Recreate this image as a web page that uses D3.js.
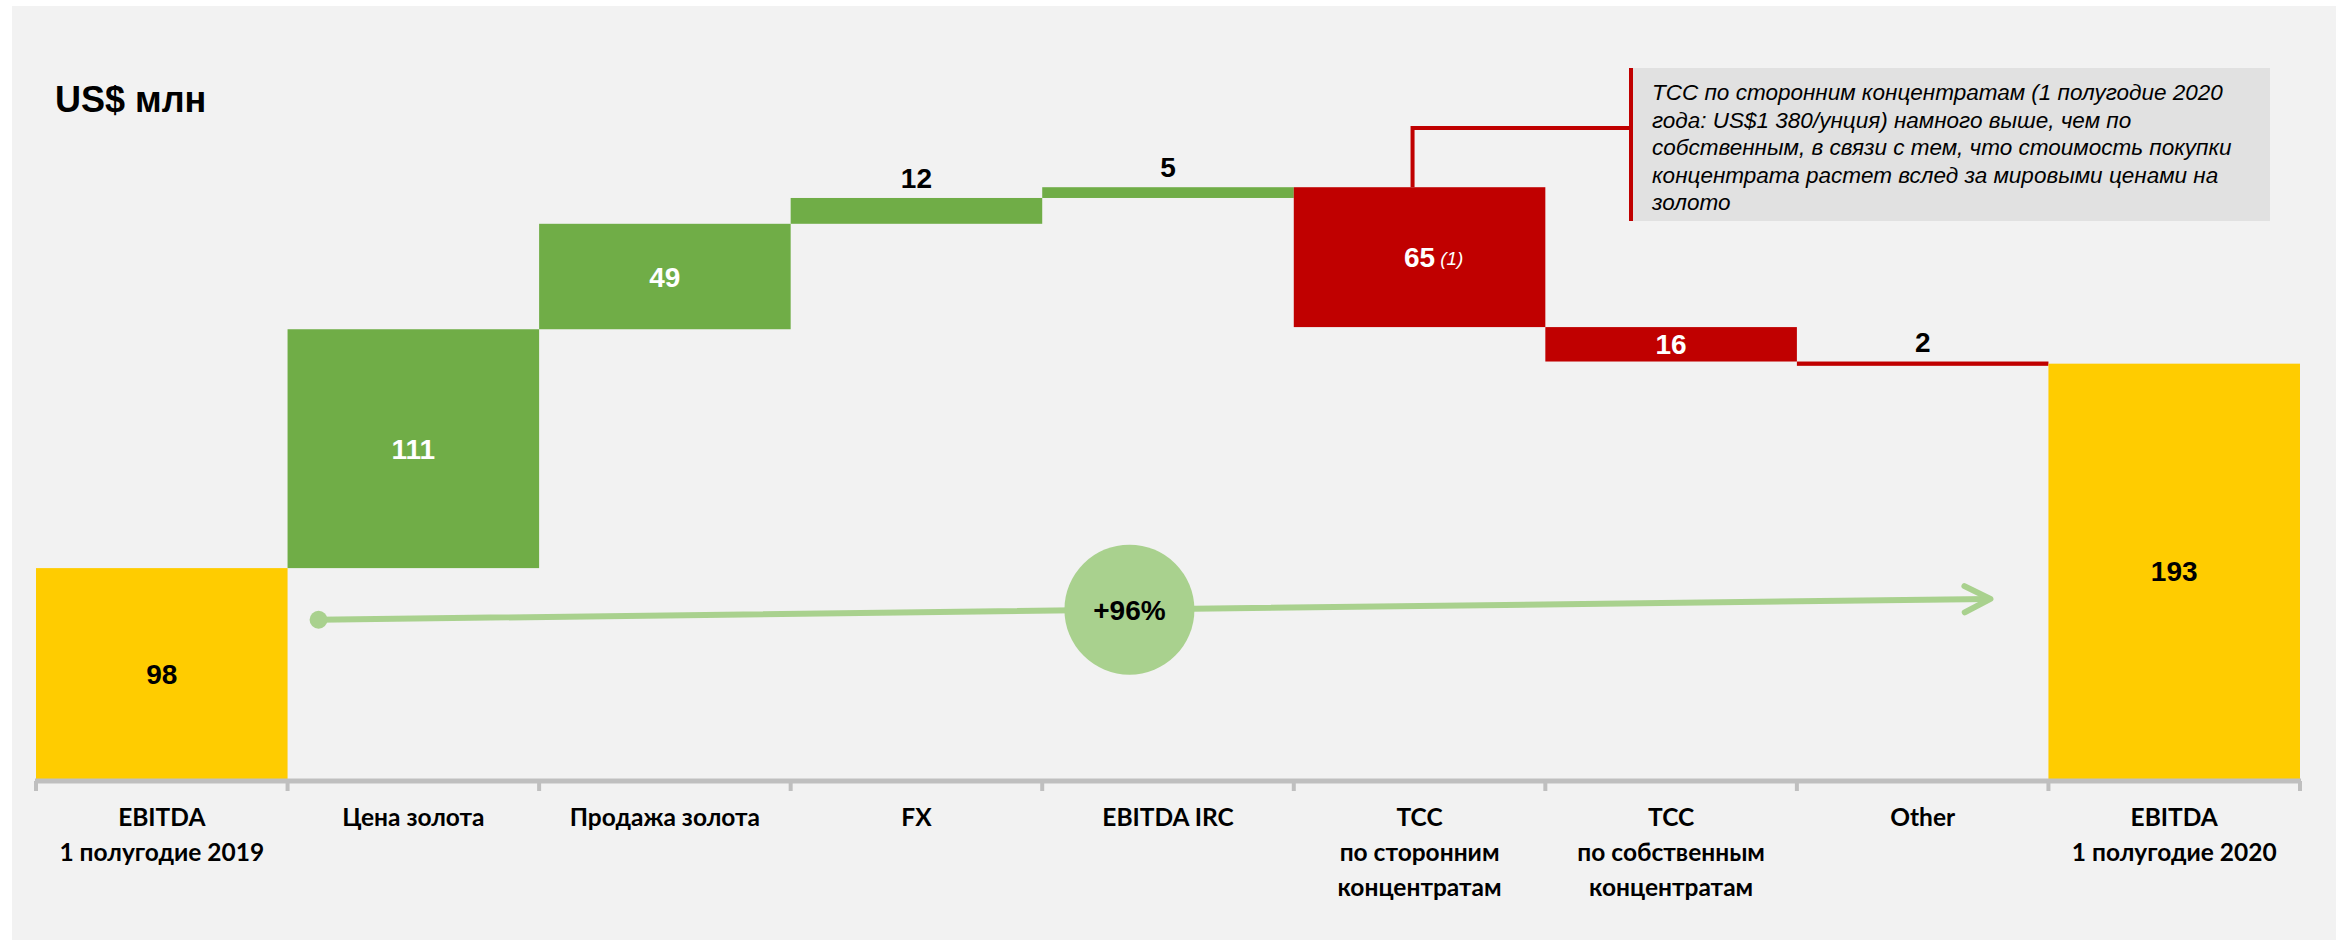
<!DOCTYPE html>
<html>
<head>
<meta charset="utf-8">
<script src="https://cdn.jsdelivr.net/npm/d3@7"></script>
<style>
  html, body { margin: 0; padding: 0; background: #ffffff; }
  svg { display: block; }
</style>
</head>
<body>
<svg id="chart" width="2336" height="940"></svg>
<script>
// ---- data ----
const categories = ["EBITDA 1 полугодие 2019", "Цена золота", "Продажа золота", "FX", "EBITDA IRC",
  "TCC по сторонним концентратам", "TCC по собственным концентратам", "Other", "EBITDA 1 полугодие 2020"];
const categoryLines = [
  ["EBITDA", "1 полугодие 2019"],
  ["Цена золота"],
  ["Продажа золота"],
  ["FX"],
  ["EBITDA IRC"],
  ["TCC", "по сторонним", "концентратам"],
  ["TCC", "по собственным", "концентратам"],
  ["Other"],
  ["EBITDA", "1 полугодие 2020"]
];
const values = [98, 111, 49, 12, 5, -65, -16, -2, 193];
const kinds = ["total", "up", "up", "up", "up", "down", "down", "down", "total"];
const footnotes = ["", "", "", "", "", "(1)", "", "", ""];
const growthLabel = "+96%";
const growthFrom = 74;   // arrow start level (value units)
const growthTo = 83.7;   // arrow end level (value units)
const unitTitle = "US$ млн";
const calloutLines = [
  "TCC по сторонним концентратам (1 полугодие 2020",
  "года: US$1 380/унция) намного выше, чем по",
  "собственным, в связи с тем, что стоимость покупки",
  "концентрата растет вслед за мировыми ценами на",
  "золото"
];

// ---- build waterfall ----
let running = 0;
const bars = values.map((v, i) => {
  let s, e;
  if (kinds[i] === "total") { s = 0; e = v; running = v; }
  else { s = running; e = running + v; running = e; }
  return { cat: categories[i], lines: categoryLines[i], v, kind: kinds[i], s, e, note: footnotes[i] };
});

const colors = { total: "#FFCC00", up: "#70AD47", down: "#C00000" };
const svg = d3.select("#chart");

svg.append("rect").attr("x", 12).attr("y", 6).attr("width", 2324).attr("height", 934).attr("fill", "#F2F2F2");

const x = d3.scaleBand().domain(categories).range([36, 2300]).padding(0);
const y = d3.scaleLinear().domain([0, 362]).range([779, 0]);
const bw = x.bandwidth();

const numFont = "'Liberation Sans', Arial, sans-serif";
const catFont = "Lato, 'Noto Sans', sans-serif";

// title
svg.append("text").attr("x", 55).attr("y", 112)
  .attr("font-family", numFont).attr("font-weight", "bold").attr("font-size", 36)
  .attr("fill", "#000").text(unitTitle);

// bars
svg.append("g").selectAll("rect").data(bars).join("rect")
  .attr("x", d => x(d.cat))
  .attr("width", bw)
  .attr("y", d => y(Math.max(d.s, d.e)))
  .attr("height", d => Math.abs(y(d.s) - y(d.e)))
  .attr("fill", d => colors[d.kind]);

// axis
const axisG = svg.append("g").attr("transform", "translate(0,781)");
axisG.call(d3.axisBottom(x).tickSize(0).tickSizeOuter(0).tickPadding(0).tickFormat(""));
axisG.select(".domain").attr("stroke", "#BFBFBF").attr("stroke-width", 5)
  .attr("d", `M${x.range()[0] - 1},0H${x.range()[1] + 1}`);
const bounds = categories.map(c => x(c)).concat([x.range()[1]]);
axisG.selectAll("line.bnd").data(bounds).join("line").attr("class", "bnd")
  .attr("x1", d => d).attr("x2", d => d).attr("y1", 0).attr("y2", 10)
  .attr("stroke", "#BFBFBF").attr("stroke-width", 4);

// category labels
const catG = svg.append("g");
bars.forEach(d => {
  const t = catG.append("text").attr("x", x(d.cat) + bw / 2).attr("y", 826)
    .attr("text-anchor", "middle").attr("font-family", catFont).attr("font-weight", "bold")
    .attr("font-size", 24.5).attr("fill", "#000");
  d.lines.forEach((ln, j) => {
    t.append("tspan").attr("x", x(d.cat) + bw / 2).attr("dy", j === 0 ? 0 : 35).text(ln);
  });
});

// value labels
const labG = svg.append("g");
bars.forEach(d => {
  const cx = x(d.cat) + bw / 2;
  const top = y(Math.max(d.s, d.e)), bot = y(Math.min(d.s, d.e));
  const h = bot - top;
  const inside = h >= 30;
  const fill = d.kind === "total" ? "#000" : (inside ? "#fff" : "#000");
  const ty = inside ? (top + bot) / 2 + 10 : top - 10;
  const t = labG.append("text").attr("x", cx).attr("y", ty).attr("text-anchor", "middle")
    .attr("font-family", numFont).attr("font-weight", "bold").attr("font-size", 28)
    .attr("fill", fill).text(Math.abs(d.v));
  if (d.note) {
    const w = t.node().getComputedTextLength();
    labG.append("text").attr("x", cx + w / 2 + 5).attr("y", ty - 2)
      .attr("font-family", numFont).attr("font-style", "italic").attr("font-size", 19)
      .attr("fill", fill).text(d.note);
  }
});

// growth arrow
const gx0 = x(categories[1]) + 31, gx1 = x(categories[8]) - 58;
const gy0 = y(growthFrom), gy1 = y(growthTo);
const ga = svg.append("g").attr("stroke", "#A9D18E").attr("fill", "none")
  .attr("stroke-width", 6).attr("stroke-linecap", "round");
ga.append("line").attr("x1", gx0).attr("y1", gy0).attr("x2", gx1 - 2).attr("y2", gy1);
const ang = Math.atan2(gy1 - gy0, gx1 - gx0);
const hl = 29, ha = 0.47;
ga.append("path").attr("stroke-linejoin", "round")
  .attr("d", `M${gx1 - hl * Math.cos(ang - ha)},${gy1 - hl * Math.sin(ang - ha)}L${gx1},${gy1}L${gx1 - hl * Math.cos(ang + ha)},${gy1 - hl * Math.sin(ang + ha)}`);
svg.append("circle").attr("cx", gx0).attr("cy", gy0).attr("r", 9).attr("fill", "#A9D18E");
const tc = 0.485;
const ccx = gx0 + (gx1 - gx0) * tc, ccy = gy0 + (gy1 - gy0) * tc;
svg.append("circle").attr("cx", ccx).attr("cy", ccy).attr("r", 65).attr("fill", "#A9D18E");
svg.append("text").attr("x", ccx).attr("y", ccy + 10).attr("text-anchor", "middle")
  .attr("font-family", numFont).attr("font-weight", "bold").attr("font-size", 28)
  .attr("fill", "#000").text(growthLabel);

// callout
const tccBar = bars[5];
const connX = x(tccBar.cat) + bw / 2 - 7;
const boxX = 1630, boxY = 68, boxW = 640, boxH = 153;
svg.append("rect").attr("x", boxX).attr("y", boxY).attr("width", boxW).attr("height", boxH).attr("fill", "#E1E1E1");
svg.append("path").attr("fill", "none").attr("stroke", "#C00000").attr("stroke-width", 4)
  .attr("d", `M${connX},${y(tccBar.s)}V128H${boxX}`);
svg.append("line").attr("x1", boxX + 1).attr("x2", boxX + 1).attr("y1", boxY).attr("y2", boxY + boxH)
  .attr("stroke", "#C00000").attr("stroke-width", 4);
const ct = svg.append("text").attr("font-family", numFont).attr("font-style", "italic")
  .attr("font-size", 22.5).attr("fill", "#000");
calloutLines.forEach((ln, i) => {
  ct.append("tspan").attr("x", 1652).attr("y", 100 + i * 27.5).text(ln);
});
</script>
</body>
</html>
